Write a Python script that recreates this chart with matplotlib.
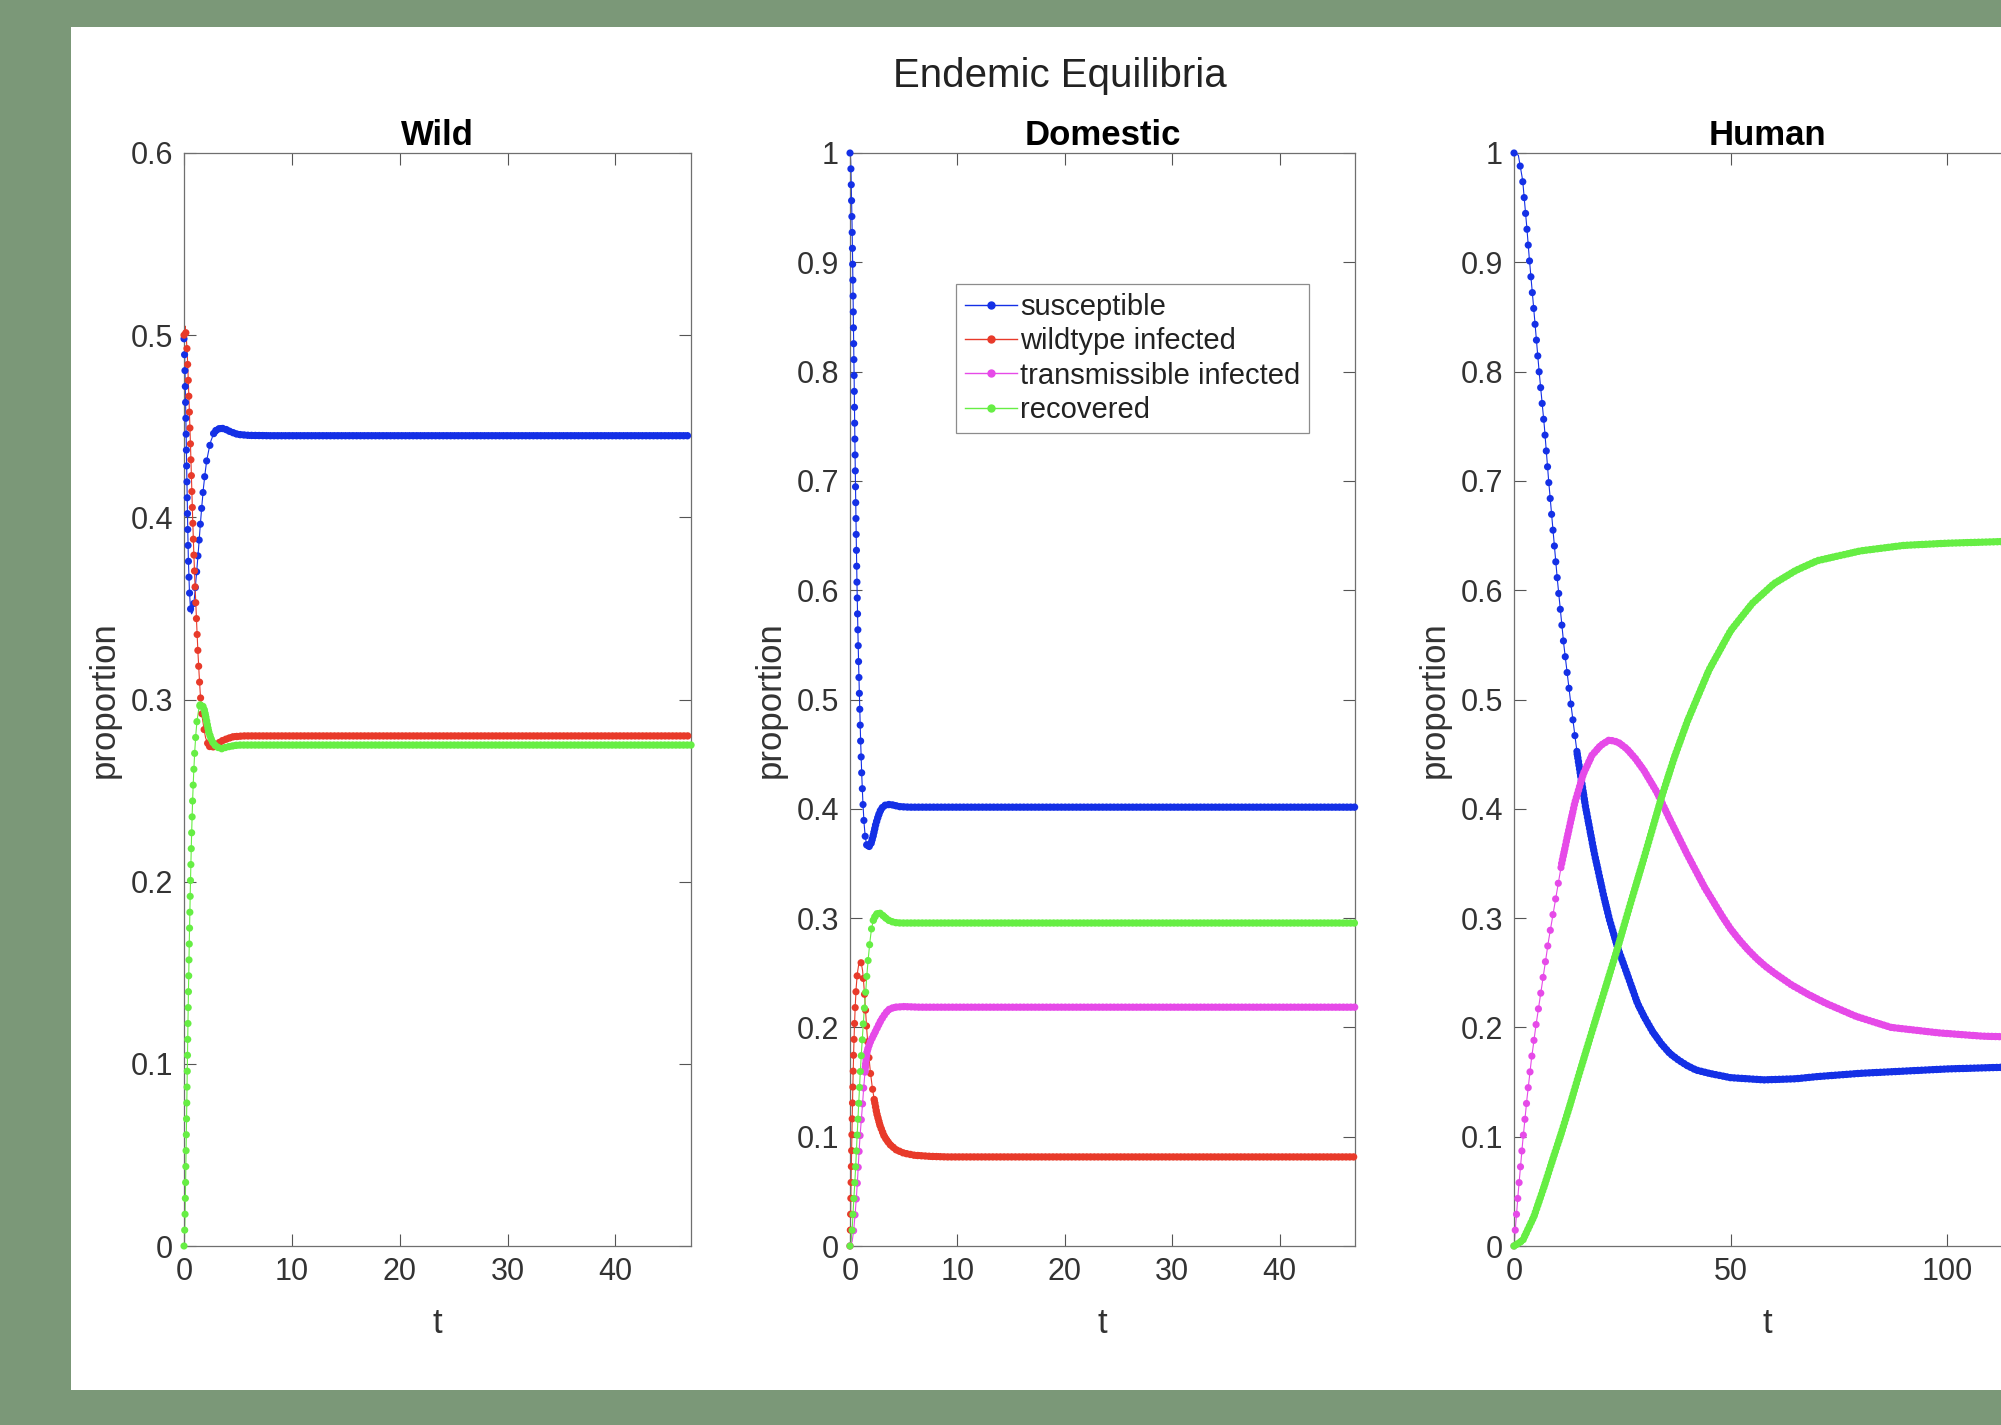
import numpy as np
import matplotlib
matplotlib.use("Agg")
import matplotlib.pyplot as plt
from matplotlib.lines import Line2D
from matplotlib.patches import Rectangle
from matplotlib.ticker import FuncFormatter

plt.rcParams['font.family'] = ['Liberation Sans', 'DejaVu Sans']

# ---- data ----
labels = ['susceptible', 'wildtype infected', 'transmissible infected', 'recovered']
colors = ['#1430e6', '#e83a2a', '#e64ae8', '#66ee44']

# Wild
wild_s_t = [0, 0.05, 0.1, 0.15, 0.2, 0.25, 0.3, 0.35, 0.4, 0.5, 0.6, 0.7, 0.8, 0.9, 1.0, 1.1, 1.2, 1.35,
            1.5, 1.65, 1.8, 1.95, 2.1, 2.3, 2.5, 2.75, 3.0, 3.4, 3.8, 4.3, 5.0, 6.0, 8, 47]
wild_s = [0.498, 0.49, 0.478, 0.462, 0.445, 0.427, 0.41, 0.393, 0.378, 0.36, 0.35, 0.347, 0.348, 0.352,
          0.358, 0.365, 0.372, 0.383, 0.395, 0.406, 0.416, 0.424, 0.431, 0.437, 0.442, 0.446, 0.448,
          0.449, 0.4485, 0.447, 0.4455, 0.445, 0.4448, 0.4448]
wild_i_t = [0, 0.05, 0.1, 0.2, 0.3, 0.4, 0.5, 0.6, 0.7, 0.8, 0.9, 1.0, 1.1, 1.2, 1.3, 1.4, 1.5, 1.6, 1.7,
            1.85, 2.0, 2.2, 2.4, 2.7, 3.0, 3.4, 3.8, 4.5, 5.5, 7, 47]
wild_i = [0.5, 0.504, 0.505, 0.5, 0.49, 0.475, 0.458, 0.44, 0.42, 0.40, 0.382, 0.366, 0.352, 0.338, 0.325,
          0.314, 0.304, 0.296, 0.29, 0.284, 0.279, 0.276, 0.274, 0.274, 0.275, 0.277, 0.278, 0.2795, 0.28,
          0.28, 0.28]
wild_r_t = [0, 0.05, 0.1, 0.15, 0.2, 0.25, 0.3, 0.35, 0.4, 0.5, 0.6, 0.7, 0.8, 0.9, 1.0, 1.1, 1.2, 1.35,
            1.5, 1.7, 1.9, 2.1, 2.3, 2.6, 3.0, 3.5, 4.0, 5, 6, 8, 47]
wild_r = [0, 0.005, 0.018, 0.035, 0.055, 0.075, 0.095, 0.115, 0.135, 0.17, 0.2, 0.225, 0.245, 0.26, 0.272,
          0.281, 0.288, 0.294, 0.297, 0.297, 0.294, 0.288, 0.282, 0.277, 0.274, 0.273, 0.274, 0.275, 0.275,
          0.275, 0.275]

# Domestic
dom_s_t = [0, 0.03, 0.06, 0.09, 0.12, 0.15, 0.19, 0.23, 0.28, 0.33, 0.39, 0.45, 0.52, 0.59, 0.66, 0.74,
           0.82, 0.9, 0.99, 1.09, 1.19, 1.3, 1.42, 1.56, 1.74, 1.95, 2.15, 2.4, 2.65, 2.9, 3.2, 3.5, 4.0,
           4.6, 5.5, 7, 47]
dom_s = [1.0, 0.998, 0.993, 0.984, 0.97, 0.955, 0.935, 0.91, 0.875, 0.835, 0.79, 0.74, 0.69, 0.642, 0.6,
         0.56, 0.525, 0.495, 0.462, 0.432, 0.408, 0.388, 0.374, 0.367, 0.365, 0.368, 0.375, 0.386, 0.394,
         0.4, 0.403, 0.404, 0.4035, 0.402, 0.4015, 0.4015, 0.4015]
dom_i_t = [0, 0.04, 0.08, 0.12, 0.17, 0.22, 0.28, 0.34, 0.41, 0.49, 0.58, 0.68, 0.8, 0.93, 1.05, 1.17,
           1.28, 1.38, 1.47, 1.56, 1.66, 1.77, 1.9, 2.05, 2.25, 2.5, 2.8, 3.2, 3.7, 4.3, 5.0, 6.0, 7.5, 9, 47]
dom_i = [0, 0.02, 0.045, 0.07, 0.098, 0.125, 0.152, 0.177, 0.2, 0.22, 0.237, 0.249, 0.257, 0.26, 0.259,
         0.252, 0.24, 0.226, 0.212, 0.198, 0.185, 0.172, 0.159, 0.147, 0.134, 0.121, 0.11, 0.1, 0.093,
         0.088, 0.085, 0.083, 0.082, 0.0815, 0.0815]
dom_m_t = [0, 0.2, 0.35, 0.5, 0.62, 0.72, 0.82, 0.93, 1.01, 1.09, 1.17, 1.24, 1.32, 1.4, 1.48, 1.55, 1.65,
           1.75, 1.86, 2.0, 2.2, 2.5, 2.8, 3.1, 3.4, 3.7, 4.2, 5.0, 6.5, 47]
dom_m = [0, 0.004, 0.015, 0.032, 0.048, 0.064, 0.082, 0.1, 0.11, 0.12, 0.13, 0.14, 0.15, 0.16, 0.169,
         0.176, 0.18, 0.183, 0.186, 0.189, 0.193, 0.199, 0.205, 0.21, 0.214, 0.217, 0.2185, 0.219, 0.2185,
         0.2185]
dom_r_t = [0, 0.1, 0.2, 0.31, 0.4, 0.47, 0.55, 0.62, 0.7, 0.78, 0.86, 0.93, 1.01, 1.09, 1.17, 1.24, 1.32,
           1.4, 1.48, 1.55, 1.63, 1.7, 1.78, 1.86, 2.0, 2.17, 2.4, 2.64, 2.9, 3.2, 3.6, 4.1, 4.7, 6, 47]
dom_r = [0, 0.004, 0.015, 0.035, 0.05, 0.062, 0.077, 0.092, 0.108, 0.124, 0.14, 0.154, 0.168, 0.181,
         0.193, 0.204, 0.215, 0.225, 0.235, 0.245, 0.255, 0.263, 0.271, 0.279, 0.29, 0.298, 0.303, 0.305,
         0.304, 0.301, 0.298, 0.296, 0.2955, 0.2955, 0.2955]

# Human
hum_s_t = [0, 1, 2, 3, 3.5, 4.5, 5.8, 7, 8, 9, 10, 11.5, 13, 14.6, 16.5, 18.5, 20.6, 22, 24, 26, 28.5, 30,
           32, 34, 36, 38, 40, 42, 45, 50, 57.7, 65, 70, 80, 90, 100, 117]
hum_s = [1.0, 0.998, 0.975, 0.93, 0.905, 0.86, 0.8, 0.75, 0.7, 0.655, 0.61, 0.55, 0.5, 0.45, 0.402, 0.36,
         0.322, 0.299, 0.272, 0.25, 0.222, 0.21, 0.196, 0.185, 0.176, 0.17, 0.165, 0.161, 0.158, 0.154,
         0.152, 0.153, 0.155, 0.158, 0.16, 0.162, 0.164]
hum_m_t = [0, 1, 2, 3, 4, 5, 6.5, 8, 9.5, 11, 12.5, 14, 16, 18, 20, 22, 24, 26, 28, 30, 33, 36, 38, 40, 42,
           44, 46, 48, 50, 52, 54, 56, 58, 60, 64, 68, 72, 79, 87, 98, 108, 117]
hum_m = [0, 0.05, 0.095, 0.135, 0.17, 0.2, 0.24, 0.28, 0.315, 0.35, 0.378, 0.405, 0.432, 0.449, 0.458,
         0.463, 0.461, 0.455, 0.446, 0.435, 0.415, 0.39, 0.374, 0.358, 0.343, 0.328, 0.315, 0.302, 0.29,
         0.28, 0.271, 0.263, 0.256, 0.25, 0.239, 0.23, 0.222, 0.21, 0.2, 0.195, 0.192, 0.191]
hum_r_t = [0, 2, 4.6, 7, 9, 10.9, 13, 15, 17.9, 21, 24, 27, 30, 34, 37, 40, 45, 50, 55, 60, 65, 70, 80,
           90, 100, 117]
hum_r = [0, 0.005, 0.027, 0.055, 0.08, 0.103, 0.13, 0.157, 0.195, 0.235, 0.274, 0.315, 0.355, 0.41, 0.447,
         0.48, 0.527, 0.563, 0.588, 0.606, 0.618, 0.627, 0.636, 0.641, 0.643, 0.645]

# ---- figure ----
W, H = 2001, 1425
fig = plt.figure(figsize=(W / 100, H / 100), dpi=100, facecolor='#7b9878')
fig.patches.append(Rectangle((71 / W, 1 - 1390 / H), 1, (1390 - 27) / H, transform=fig.transFigure,
                             facecolor='white', edgecolor='none', zorder=-10))


def box(left, right, top=153, bottom=1246):
    return [left / W, 1 - bottom / H, (right - left) / W, (bottom - top) / H]


def draw(ax, t, v, color, t_band):
    # thin connecting line + markers (sparse where steep, packed into a band where flat)
    t = np.asarray(t, dtype=float)
    v = np.asarray(v, dtype=float)
    ax.plot(t, v, color=color, lw=0.8, zorder=2)
    steep = t <= t_band
    flat = t >= t_band
    if steep.sum() > 1:
        ax.plot(t[steep], v[steep], color=color, lw=5.2, ls=(0, (0.001, 2.2)),
                dash_capstyle='round', zorder=3, clip_on=False)
    ax.plot(t[flat], v[flat], color=color, lw=5.4, ls=(0, (0.001, 0.5)),
            dash_capstyle='round', zorder=3, clip_on=False)


ax_w = fig.add_axes(box(184, 691))
ax_d = fig.add_axes(box(850, 1355))
ax_h = fig.add_axes(box(1514, 2021))

draw(ax_w, wild_s_t, wild_s, colors[0], 2.75)
draw(ax_w, wild_i_t, wild_i, colors[1], 2.2)
draw(ax_w, wild_r_t, wild_r, colors[3], 1.5)

draw(ax_d, dom_s_t, dom_s, colors[0], 1.56)
draw(ax_d, dom_i_t, dom_i, colors[1], 2.25)
draw(ax_d, dom_m_t, dom_m, colors[2], 1.4)
draw(ax_d, dom_r_t, dom_r, colors[3], 2.17)

draw(ax_h, hum_s_t, hum_s, colors[0], 14.6)
draw(ax_h, hum_m_t, hum_m, colors[2], 11)
draw(ax_h, hum_r_t, hum_r, colors[3], 0)

ax_w.set_xlim(0, 47)
ax_w.set_ylim(0, 0.6)
ax_w.set_xticks([0, 10, 20, 30, 40])
ax_w.set_yticks(np.arange(0, 0.61, 0.1))
ax_d.set_xlim(0, 47)
ax_d.set_ylim(0, 1)
ax_d.set_xticks([0, 10, 20, 30, 40])
ax_d.set_yticks(np.arange(0, 1.01, 0.1))
ax_h.set_xlim(0, 117)
ax_h.set_ylim(0, 1)
ax_h.set_xticks([0, 50, 100])
ax_h.set_yticks(np.arange(0, 1.01, 0.1))

fmt = FuncFormatter(lambda y, _: '%g' % round(y, 2))
for ax, title in [(ax_w, 'Wild'), (ax_d, 'Domestic'), (ax_h, 'Human')]:
    ax.yaxis.set_major_formatter(fmt)
    ax.tick_params(direction='in', length=8.5, width=0.8, top=True, right=True,
                   color='#555555', labelcolor='#333333', labelsize=22)
    ax.tick_params(axis='x', pad=8)
    ax.tick_params(axis='y', pad=8)
    for s in ax.spines.values():
        s.set_color('#6f6f6f')
        s.set_linewidth(0.9)
    ax.set_title(title, fontsize=25, fontweight='bold', pad=6)
    ax.set_xlabel('t', fontsize=25, color='#333333')
    ax.set_ylabel('proportion', fontsize=25, color='#333333')
    ax.yaxis.set_label_coords(-0.125, 0.5)
    ax.xaxis.set_label_coords(0.5, -0.056)

handles = [Line2D([], [], color=c, lw=1.0, marker='o', ms=5) for c in colors]
leg = ax_d.legend(handles, labels, loc='upper left', bbox_to_anchor=(956 / W, 1 - 284 / H),
                  bbox_transform=fig.transFigure, fontsize=21, frameon=True, fancybox=False,
                  edgecolor='#6f6f6f', handlelength=1.8, handletextpad=0.1, labelspacing=0.22,
                  borderpad=0.3, borderaxespad=0, numpoints=1)
leg.get_frame().set_linewidth(0.9)
for txt in leg.get_texts():
    txt.set_color('#222222')

fig.text(1060 / W, 1 - 76 / H, 'Endemic Equilibria', ha='center', va='center', fontsize=29,
         color='#222222')

fig.savefig('out.png', dpi=100, facecolor=fig.get_facecolor())
